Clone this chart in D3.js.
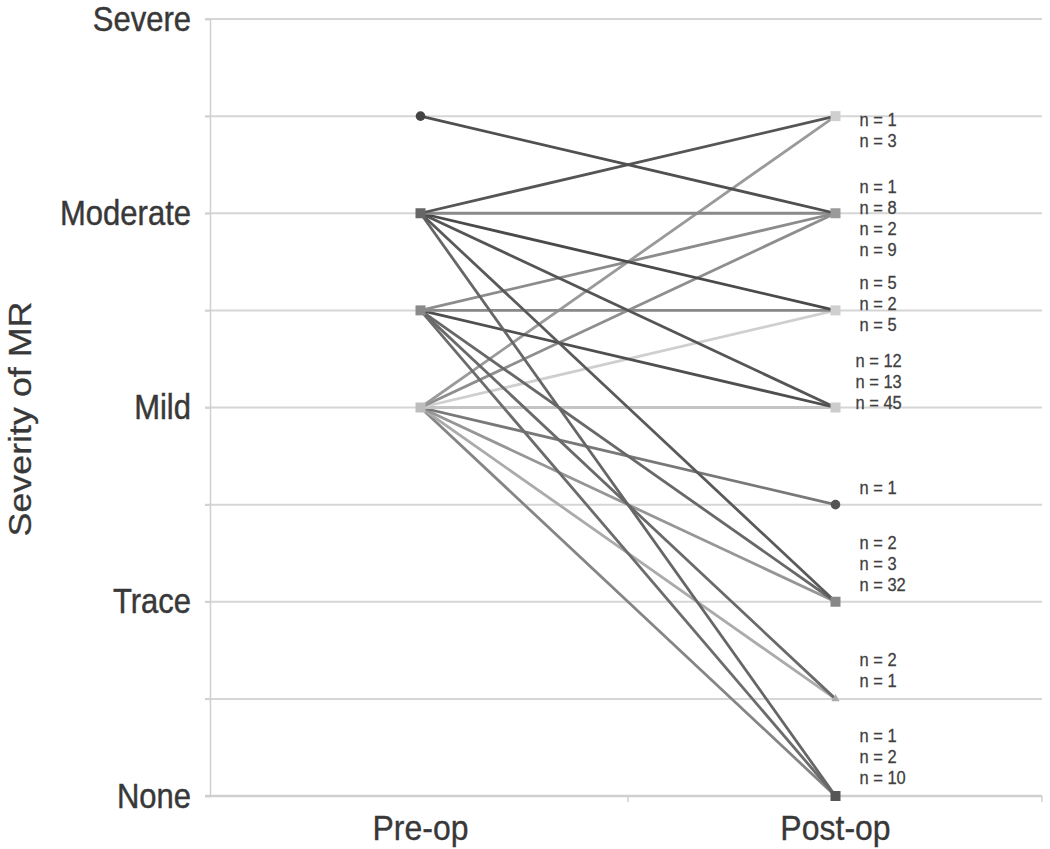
<!DOCTYPE html>
<html><head><meta charset="utf-8">
<script src="https://cdn.jsdelivr.net/npm/d3@7/dist/d3.min.js"></script>
<style>body{margin:0;background:#fff}svg{display:block}</style>
</head><body><svg id="c" width="1050" height="849"></svg>
<script>
// ---------- data ----------
const categories = ["Pre-op", "Post-op"];
const severityTicks = [0, 2, 4, 6, 8];
const severityNames = ["None", "Trace", "Mild", "Moderate", "Severe"];
const preLevel  = [7, 6, 6, 6, 6, 6, 6, 5, 5, 5, 5, 5, 5, 4, 4, 4, 4, 4, 4, 4, 4];
const postLevel = [6, 7, 6, 5, 4, 2, 0, 6, 5, 4, 2, 1, 0, 7, 6, 5, 4, 3, 2, 1, 0];
const patients  = [1, 1, 8, 5, 12, 2, 1, 2, 2, 13, 3, 2, 2, 3, 9, 5, 45, 1, 32, 1, 10];

// ---------- styles / layout ----------
const lineColors = ["#505050", "#555555", "#8a8a8a", "#4a4a4a", "#555555", "#5a5a5a", "#666666",
                    "#8c8c8c", "#8a8a8a", "#4f4f4f", "#686868", "#6a6a6a", "#6c6c6c",
                    "#9a9a9a", "#8e8e8e", "#cfcfcf", "#c4c4c4", "#787878", "#969696", "#ababab", "#858585"];
const labelFirstOffset = {7: 4, 6: -26, 5: -27, 4: -47, 3: -17, 2: -59, 1: -39, 0: -60};
const labelDx = {7: 24, 6: 24, 5: 24, 4: 20, 3: 24, 2: 24, 1: 24, 0: 24};
const labelStep = 21;
const preMarkers  = {7: ["circle", "#444"], 6: ["square", "#666"], 5: ["square", "#8a8a8a"], 4: ["square", "#bdbdbd"]};
const postMarkers = {7: ["square", "#cfcfcf"], 6: ["square", "#9a9a9a"], 5: ["square", "#cfcfcf"], 4: ["square", "#cccccc"],
                     3: ["circle", "#555"], 2: ["square", "#888"], 1: ["triangle", "#aaa"], 0: ["square", "#555"]};
const SY = 1.12; // vertical stretch of the reference text
const FONT = "'Liberation Sans', Arial, sans-serif";

const svg = d3.select("#c");
const x = d3.scaleBand().domain(categories).range([213, 1043]).padding(0);
const cx = c => x(c) + x.bandwidth() / 2;
const y = d3.scaleLinear().domain([0, 8]).range([796, 19]);

// gridlines
svg.append("g").selectAll("line").data(d3.range(0, 9)).join("line")
  .attr("x1", 205).attr("x2", 1042)
  .attr("y1", d => y(d)).attr("y2", d => y(d))
  .attr("stroke", "#d6d6d6").attr("stroke-width", 2);

// y axis
const yAx = svg.append("g").attr("transform", "translate(210,0)")
  .call(d3.axisLeft(y).tickValues(d3.range(0, 9)).tickSize(5).tickFormat(""));
yAx.selectAll("path,line").attr("stroke", "#d0d0d0").attr("stroke-width", 1.5);

// x axis
const xAx = svg.append("g").attr("transform", "translate(0,796)")
  .call(d3.axisBottom(x).tickSize(0).tickFormat(""));
xAx.select("path").attr("d", "M205,0H1042").attr("stroke", "#cfcfcf").attr("stroke-width", 2.5);
xAx.selectAll(".tick").remove();
svg.append("g").selectAll("line").data([x("Post-op"), 1042]).join("line")
  .attr("x1", d => d).attr("x2", d => d).attr("y1", 796).attr("y2", 802)
  .attr("stroke", "#d0d0d0").attr("stroke-width", 1.5);

// y tick labels
svg.append("g").selectAll("text").data(severityTicks).join("text")
  .attr("transform", d => `translate(191,${y(d) + 11.5}) scale(1,${SY})`)
  .attr("text-anchor", "end").attr("font-family", FONT).attr("font-size", 31)
  .attr("fill", "#383838").attr("stroke", "#383838").attr("stroke-width", 0.4)
  .text((d, i) => severityNames[i]);

// y axis title
svg.append("text")
  .attr("transform", `translate(31,419) rotate(-90) scale(${SY},1)`)
  .attr("text-anchor", "middle").attr("font-family", FONT).attr("font-size", 32)
  .attr("fill", "#383838").attr("stroke", "#383838").attr("stroke-width", 0.3)
  .text("Severity of MR");

// x category labels
svg.append("g").selectAll("text").data(categories).join("text")
  .attr("transform", d => `translate(${cx(d)},840) scale(1,${SY})`)
  .attr("text-anchor", "middle").attr("font-family", FONT).attr("font-size", 32)
  .attr("fill", "#383838").attr("stroke", "#383838").attr("stroke-width", 0.3)
  .text(d => d);

// series lines (lighter/lower first)
const series = preLevel.map((p, i) => ({i, pre: p, post: postLevel[i], n: patients[i], color: lineColors[i]}));
const line = d3.line().x(d => cx(d[0])).y(d => y(d[1]));
const order = series.slice().sort((a, b) => a.pre - b.pre || b.i - a.i);
svg.append("g").selectAll("path").data(order).join("path")
  .attr("d", s => line([["Pre-op", s.pre], ["Post-op", s.post]]))
  .attr("fill", "none").attr("stroke", s => s.color).attr("stroke-width", 2.8);

// markers
function marker(g, cat, lvl, spec) {
  const px = cx(cat), py = y(lvl), [shape, col] = spec;
  if (shape === "square") g.append("rect").attr("x", px - 5).attr("y", py - 5).attr("width", 10).attr("height", 10).attr("fill", col);
  else if (shape === "circle") g.append("circle").attr("cx", px).attr("cy", py).attr("r", 4.8).attr("fill", col);
  else g.append("path").attr("d", d3.symbol(d3.symbolTriangle, 30)()).attr("transform", `translate(${px},${py})`).attr("fill", col);
}
const mg = svg.append("g");
Object.keys(preMarkers).forEach(l => marker(mg, "Pre-op", +l, preMarkers[l]));
Object.keys(postMarkers).forEach(l => marker(mg, "Post-op", +l, postMarkers[l]));

// n labels
const lg = svg.append("g");
d3.groups(series, s => s.post).forEach(([lvl, arr]) => {
  arr.sort((a, b) => b.pre - a.pre);
  arr.forEach((s, k) => {
    const ty = y(lvl) + labelFirstOffset[lvl] + k * labelStep + 6;
    lg.append("text")
      .attr("transform", `translate(${cx("Post-op") + labelDx[lvl]},${ty}) scale(1,${SY})`)
      .attr("font-family", FONT).attr("font-size", 16.5).attr("fill", "#404040")
      .attr("stroke", "#404040").attr("stroke-width", 0.25)
      .text(`n = ${s.n}`);
  });
});
</script></body></html>
